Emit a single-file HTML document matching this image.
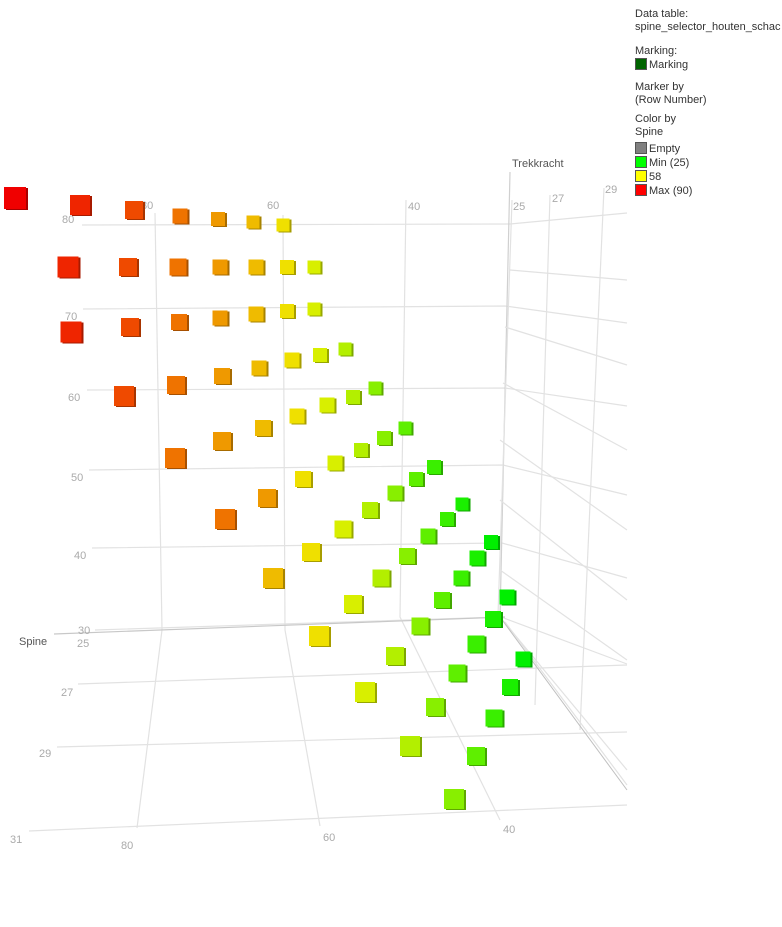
<!DOCTYPE html>
<html><head><meta charset="utf-8"><style>
html,body{margin:0;padding:0;background:#fff;width:782px;height:927px;overflow:hidden}
svg{position:absolute;left:0;top:0}
.leg{position:absolute;left:635px;font-family:"Liberation Sans",sans-serif;font-size:11px;color:#333;line-height:13px}
.sw{display:inline-block;width:10px;height:10px;border:1px solid #555;vertical-align:-2px;margin-right:2px}
</style></head><body>
<svg width="782" height="927" xmlns="http://www.w3.org/2000/svg">
<g stroke="#e2e2e2" stroke-width="1.2" fill="none">
<!-- back wall horizontals -->
<polyline points="82,225 510,224 627,213"/>
<polyline points="83,309 505,306 627,323"/>
<polyline points="87,390 505,388 627,406"/>
<polyline points="89,470 503,465 627,495"/>
<polyline points="92,548 502,543 627,578"/>
<polyline points="95,630 501,617 627,664"/>
<!-- verticals -->
<polyline points="155,213 162,630 137,828"/>
<polyline points="283,215 285,630 320,826"/>
<polyline points="406,200 400,617 500,820"/>
<line x1="510" y1="172" x2="500" y2="617" stroke="#d0d0d0"/>
<line x1="512" y1="200" x2="498" y2="615"/>
<line x1="550" y1="195" x2="535" y2="705"/>
<line x1="604" y1="188" x2="580" y2="730"/>
<!-- right wall -->
<line x1="510" y1="270" x2="627" y2="280"/>
<line x1="505" y1="327" x2="627" y2="365"/>
<line x1="503" y1="383" x2="627" y2="450"/>
<line x1="500" y1="440" x2="627" y2="530"/>
<line x1="500" y1="500" x2="627" y2="600"/>
<line x1="500" y1="570" x2="627" y2="660"/>
<!-- floor -->
<line x1="78" y1="684" x2="627" y2="665"/>
<line x1="57" y1="747" x2="627" y2="732"/>
<line x1="29" y1="831" x2="627" y2="805"/>
<line x1="500" y1="617" x2="627" y2="770"/>
<line x1="505" y1="622" x2="627" y2="785"/>
</g>
<line x1="54" y1="634" x2="505" y2="617" stroke="#c8c8c8" stroke-width="1.2"/>
<line x1="500" y1="617" x2="627" y2="790" stroke="#c0c0c0" stroke-width="1"/>
<g font-family="Liberation Sans,sans-serif" font-size="11" fill="#aaa">
<text x="62" y="223">80</text><text x="65" y="320">70</text><text x="68" y="401">60</text>
<text x="71" y="481">50</text><text x="74" y="559">40</text><text x="78" y="634">30</text>
<text x="141" y="209">80</text><text x="267" y="209">60</text><text x="408" y="210">40</text>
<text x="77" y="647">25</text><text x="61" y="696">27</text><text x="39" y="757">29</text><text x="10" y="843">31</text>
<text x="121" y="849">80</text><text x="323" y="841">60</text><text x="503" y="833">40</text>
<text x="513" y="210">25</text><text x="552" y="202">27</text><text x="605" y="193">29</text>
</g>
<g font-family="Liberation Sans,sans-serif" font-size="11" fill="#555">
<text x="19" y="645">Spine</text><text x="512" y="167">Trekkracht</text>
</g>
<g id="cubes"></g>
</svg>
<div class="leg" style="top:8px">Data table:<br>spine_selector_houten_schac</div>
<div class="leg" style="top:45px">Marking:<br><span class="sw" style="background:#006400"></span>Marking</div>
<div class="leg" style="top:81px">Marker by<br>(Row Number)</div>
<div class="leg" style="top:113px">Color by<br>Spine</div>
<div class="leg" style="top:142px"><span class="sw" style="background:#808080"></span>Empty<br><span class="sw" style="background:#00ff00"></span>Min (25)<br><span class="sw" style="background:#ffff00"></span>58<br><span class="sw" style="background:#ff0000"></span>Max (90)</div>
<script>
var d=[
[15,198,22,"#f00000"],[80,205,20,"#ef2500"],[134,210,18,"#ef4a00"],[180,216,15,"#ef7300"],[218,219,14,"#ef9900"],[253,222,13,"#efbb00"],[283,225,13,"#efe000"],
[68,267,21,"#ef2500"],[128,267,18,"#ef4a00"],[178,267,17,"#ef7300"],[220,267,15,"#ef9900"],[256,267,15,"#efbb00"],[287,267,14,"#efe000"],[314,267,13,"#d8ef00"],
[71,332,21,"#ef2500"],[130,327,18,"#ef4a00"],[179,322,16,"#ef7300"],[220,318,15,"#ef9900"],[256,314,15,"#efbb00"],[287,311,14,"#efe000"],[314,309,13,"#d8ef00"],
[124,396,20,"#ef4a00"],[176,385,18,"#ef7300"],[222,376,16,"#ef9900"],[259,368,15,"#efbb00"],[292,360,15,"#efe000"],[320,355,14,"#d8ef00"],[345,349,13,"#b3ef00"],
[175,458,20,"#ef7300"],[222,441,18,"#ef9900"],[263,428,16,"#efbb00"],[297,416,15,"#efe000"],[327,405,15,"#d8ef00"],[353,397,14,"#b3ef00"],[375,388,13,"#88ef00"],
[225,519,20,"#ef7300"],[267,498,18,"#ef9900"],[303,479,16,"#efe000"],[335,463,15,"#d8ef00"],[361,450,14,"#b3ef00"],[384,438,14,"#88ef00"],[405,428,13,"#5fef00"],
[273,578,20,"#efbb00"],[311,552,18,"#efe000"],[343,529,17,"#d8ef00"],[370,510,16,"#b3ef00"],[395,493,15,"#88ef00"],[416,479,14,"#5fef00"],[434,467,14,"#3aef00"],
[319,636,20,"#efe000"],[353,604,18,"#d8ef00"],[381,578,17,"#b3ef00"],[407,556,16,"#88ef00"],[428,536,15,"#5fef00"],[447,519,14,"#3aef00"],[462,504,13,"#1aef00"],[491,542,14,"#00ef00"],
[365,692,20,"#d8ef00"],[395,656,18,"#b3ef00"],[420,626,17,"#88ef00"],[442,600,16,"#5fef00"],[461,578,15,"#3aef00"],[477,558,15,"#1aef00"],
[410,746,20,"#b3ef00"],[435,707,18,"#88ef00"],[457,673,17,"#5fef00"],[476,644,17,"#3aef00"],[493,619,16,"#1aef00"],[507,597,15,"#00ef00"],
[454,799,20,"#88ef00"],[476,756,18,"#5fef00"],[494,718,17,"#3aef00"],[510,687,16,"#1aef00"],[523,659,15,"#00ef00"]];
var g=document.getElementById("cubes"),s="";
d.forEach(function(c){var x=c[0]-c[2]/2,y=c[1]-c[2]/2,w=c[2];
s+='<rect x="'+(x+2)+'" y="'+(y+1)+'" width="'+w+'" height="'+w+'" fill="'+c[3]+'" style="filter:brightness(0.7)"/>';
s+='<rect x="'+x+'" y="'+y+'" width="'+w+'" height="'+w+'" fill="'+c[3]+'"/>';});
g.innerHTML=s;
</script>
</body></html>
